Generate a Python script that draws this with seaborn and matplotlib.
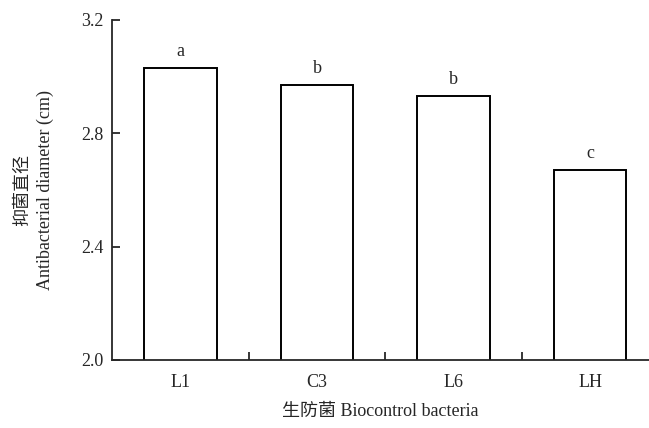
import matplotlib.pyplot as plt
import seaborn as sns
import pandas as pd
from matplotlib.ticker import FixedLocator

# data
strains = ["L1", "C3", "L6", "LH"]
diameter = [3.03, 2.97, 2.93, 2.67]
letters = ["a", "b", "b", "c"]
y_ticks = [2.0, 2.4, 2.8, 3.2]

sns.set_style("ticks")
plt.rcParams['font.family'] = ['Liberation Serif', 'Noto Sans CJK SC']
plt.rcParams['axes.linewidth'] = 1.3

df = pd.DataFrame({"strain": strains, "diameter": diameter})

fig = plt.figure(figsize=(6.49, 4.28), dpi=100)
ax = fig.add_axes([0.1726, 0.1589, 0.8274, 0.7944])

sns.barplot(data=df, x="strain", y="diameter", color="white", edgecolor="black",
            linewidth=1.4, width=0.53, saturation=1, ax=ax)

ax.set_ylim(2.0, 3.2)
ax.set_xlim(-0.5, 3.43)
ax.set_yticks(y_ticks)
ax.set_yticklabels([f"{v:.1f}" for v in y_ticks], fontsize=13)
ax.set_xticks(range(len(strains)))
ax.set_xticklabels(strains, fontsize=13)
ax.xaxis.set_minor_locator(FixedLocator([0.5, 1.5, 2.5]))
ax.tick_params(axis="x", which="major", length=0, pad=10)
ax.tick_params(axis="x", which="minor", direction="in", length=6, width=1.3)
ax.tick_params(axis="y", direction="in", length=6, width=1.3, pad=6)
sns.despine(ax=ax)

for i, (v, t) in enumerate(zip(diameter, letters)):
    ax.annotate(t, xy=(i, v), xytext=(0, 6), textcoords="offset points",
                ha="center", va="bottom", fontsize=13)

ax.set_ylabel("抑菌直径\nAntibacterial diameter (cm)", fontsize=13, labelpad=20,
              linespacing=1.35)
ax.set_xlabel("生防菌 Biocontrol bacteria", fontsize=13, labelpad=9)

fig.savefig("out.png", dpi=100)
